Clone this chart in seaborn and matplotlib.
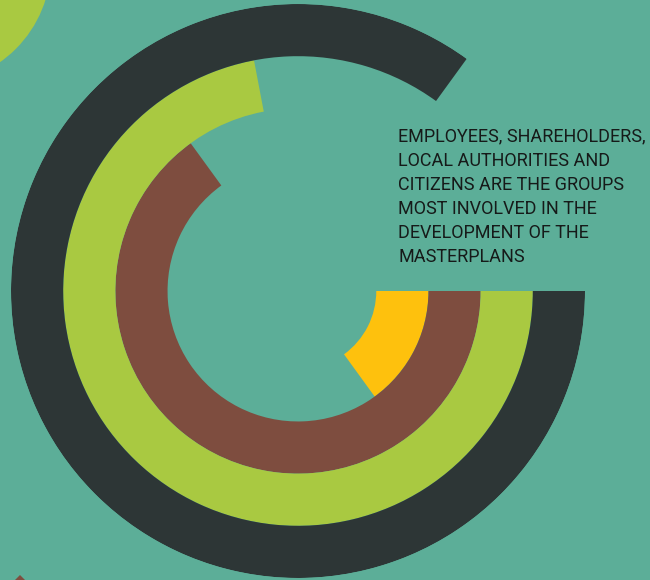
import numpy as np
import pandas as pd
import matplotlib
matplotlib.use("Agg")
import matplotlib.pyplot as plt
from matplotlib import font_manager
from matplotlib.patches import Circle, Polygon
import seaborn as sns

# Share of masterplans that involved each stakeholder group (%), inner ring first
groups = ["Citizens", "Local authorities", "Shareholders", "Employees"]
shares = [15, 65, 72, 85]
ring_colors = ["#FEC10D", "#7E4D3F", "#A9C941", "#2D3636"]

caption_lines = [
    "EMPLOYEES, SHAREHOLDERS,",
    "LOCAL AUTHORITIES AND",
    "CITIZENS ARE THE GROUPS",
    "MOST INVOLVED IN THE",
    "DEVELOPMENT OF THE",
    "MASTERPLANS",
]

BG = "#5CAE98"
W, H = 650, 580

sns.set_theme(style="white")
installed = {f.name for f in font_manager.fontManager.ttflist}
narrow = "Liberation Sans Narrow" in installed
caption_family = ["Liberation Sans Narrow", "DejaVu Sans"] if narrow else ["Roboto", "DejaVu Sans"]
caption_size = 13.6 if narrow else 13.0
plt.rcParams["font.family"] = caption_family

df = pd.DataFrame({"group": groups, "share": shares})
# a full turn corresponds to 100 %
df["angle"] = df["share"] / 100.0 * 2 * np.pi

fig = plt.figure(figsize=(W / 100, H / 100), dpi=100, facecolor=BG)

# decorative pieces of neighbouring graphics, in pixel coordinates
deco = fig.add_axes([0, 0, 1, 1])
deco.set_xlim(0, W)
deco.set_ylim(H, 0)
deco.set_axis_off()
deco.add_patch(Circle((-69, -36), 120, color="#A9C941", lw=0))
deco.add_patch(Polygon([(14, 581), (20, 575), (26, 581)], closed=True,
                       color="#7E4D3F", lw=0))

# radial bar chart: one ring per group, starting at 3 o'clock, clockwise
cx, cy, R = 298, 291, 287
ax = fig.add_axes([(cx - R) / W, (H - cy - R) / H, 2 * R / W, 2 * R / H],
                  projection="polar")
sns.barplot(data=df, x="angle", y="group", hue="group", order=groups,
            hue_order=groups, palette=ring_colors, orient="h", width=1.0,
            linewidth=0, saturation=1, legend=False, ax=ax)
ax.set_theta_zero_location("E")
ax.set_theta_direction(-1)
ax.set_xlim(0, 2 * np.pi)
ax.set_ylim(-2.0, 3.5)
ax.set_axis_off()

# caption, one line at a time
for i, line in enumerate(caption_lines):
    deco.text(398, 141.5 + 24 * i, line, fontsize=caption_size, color="#161A19",
              ha="left", va="baseline")

fig.savefig("out.png", dpi=100, facecolor=BG)
